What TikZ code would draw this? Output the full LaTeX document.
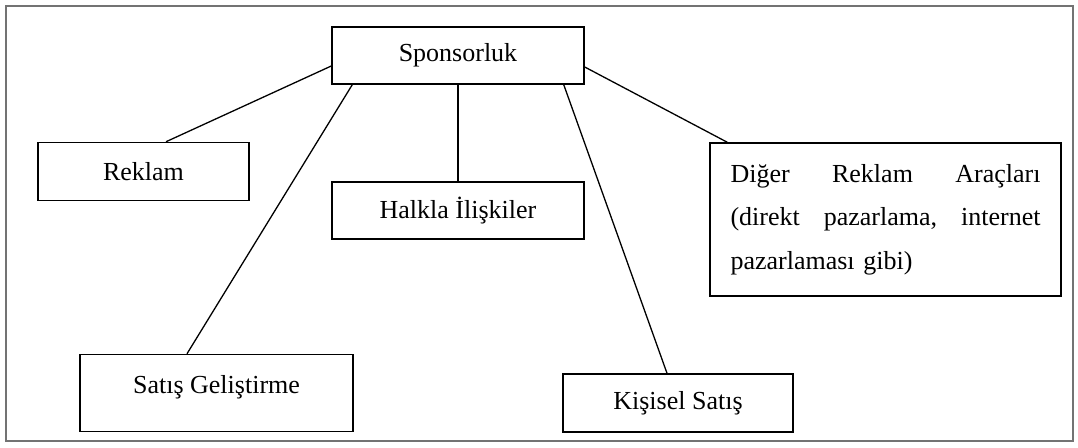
\documentclass[tikz,border=0pt]{standalone}
\usepackage{fontspec}
\setmainfont{Liberation Serif}
\usetikzlibrary{calc}
\begin{document}
\begin{tikzpicture}[x=1pt,y=-1pt,
  box/.style={draw=black, line width=1.5pt, inner sep=0pt, align=center,
    font=\fontsize{26}{31}\selectfont},
  conn/.style={draw=black, line width=1.3pt}]
\useasboundingbox (0,0) rectangle (1078,447);
\draw[gray!90!black, line width=1.2pt] (6,6) rectangle (1073,441);
\node[box, minimum width=252pt, minimum height=57pt] (spons) at (458,55.5) {Sponsorluk};
\node[box, minimum width=211pt, minimum height=58pt] (reklam) at (143.5,171.5) {Reklam};
\node[box, minimum width=252pt, minimum height=57pt] (halkla) at (458,210.5) {Halkla İlişkiler};
\node[box, minimum width=273pt, minimum height=77pt, text height=12pt, text depth=12pt] (satis) at (216.5,393) {Satış Geliştirme};
\node[box, minimum width=230pt, minimum height=58pt] (kisisel) at (678,403) {Kişisel Satış};
\node[box, minimum width=351pt, minimum height=153pt, text width=310pt, align=left,
  font=\fontsize{26}{43.5}\selectfont] (diger) at (885.5,219.5)
  {Diğer\hfill Reklam\hfill Araçları\\(direkt\hfill pazarlama,\hfill internet\\pazarlaması gibi)};
\draw[conn] ($(spons.west)+(0,10.5)$) -- ($(reklam.north)+(22.5,0)$);
\draw[conn] ($(spons.south west)+(21,0)$) -- ($(satis.north)+(-29.5,0)$);
\draw[conn] (spons.south) -- (halkla.north);
\draw[conn] ($(spons.south east)+(-21,0)$) -- ($(kisisel.north)+(-11,0)$);
\draw[conn] ($(spons.east)+(0,11.5)$) -- ($(diger.north west)+(18,0)$);
\end{tikzpicture}
\end{document}
